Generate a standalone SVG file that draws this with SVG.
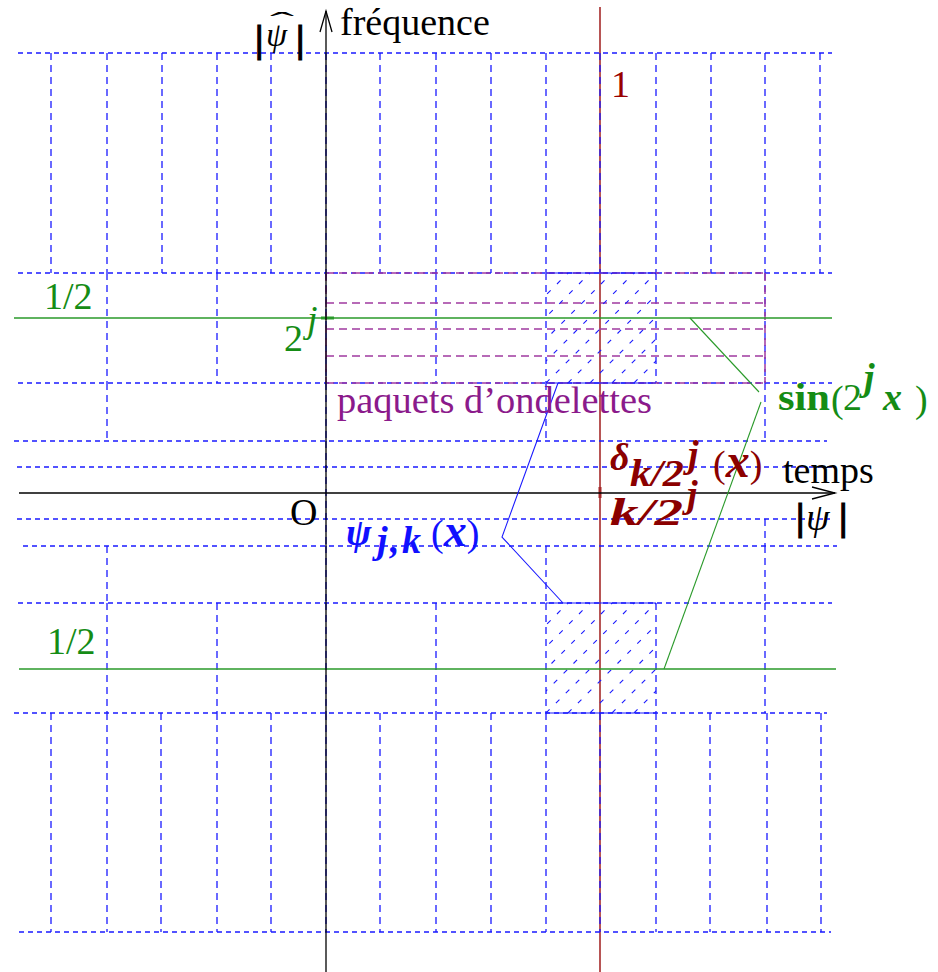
<svg xmlns="http://www.w3.org/2000/svg" width="938" height="972" viewBox="0 0 938 972">
<style>
.h{stroke:#1a1aff;stroke-width:1.3;stroke-dasharray:5 4;fill:none}
.v{stroke:#1a1aff;stroke-width:1.3;stroke-dasharray:7 5;fill:none}
.p{stroke:#a03aa0;stroke-width:1.5;stroke-dasharray:8 5;fill:none}
.g{stroke:#2a9a2a;stroke-width:1.5;fill:none}
.gt{stroke:#2a9a2a;stroke-width:1.1;fill:none}
.b{stroke:#1a1aff;stroke-width:1.1;fill:none}
.k{stroke:#000;stroke-width:1.3;fill:none}
.r{stroke:#a52a2a;stroke-width:1.6;fill:none}
.hatch{stroke:#1a1aff;stroke-width:1.1;stroke-dasharray:5 9;fill:none}
text{font-family:"Liberation Serif","Times New Roman",serif;font-size:38px}
.m{font-style:italic;font-weight:bold}
.i{font-style:italic}
.bar{font-weight:bold;stroke:#000;stroke-width:1.2}
</style>
<defs>
<clipPath id="hc"><rect x="0" y="0" width="110" height="110"/></clipPath>
<g id="hatchbox">
<g clip-path="url(#hc)" class="hatch">
<line x1="-88" y1="110" x2="22" y2="0"/>
<line x1="-66" y1="110" x2="44" y2="0"/>
<line x1="-44" y1="110" x2="66" y2="0"/>
<line x1="-22" y1="110" x2="88" y2="0"/>
<line x1="0" y1="110" x2="110" y2="0"/>
<line x1="22" y1="110" x2="132" y2="0"/>
<line x1="44" y1="110" x2="154" y2="0"/>
<line x1="66" y1="110" x2="176" y2="0"/>
<line x1="88" y1="110" x2="198" y2="0"/>
</g>
<line x1="0" y1="0" x2="110" y2="0" class="b" stroke-width="1.5"/>
<line x1="0" y1="110" x2="110" y2="110" class="b" stroke-width="1.5"/>
</g>
</defs>
<rect width="938" height="972" fill="#fff"/>

<g id="red-line">
<line x1="600" y1="7" x2="600" y2="972" class="r"/>
<line x1="600" y1="487" x2="600" y2="498" stroke="#a52a2a" stroke-width="3"/>
</g>

<g id="grid">
<line class="h" x1="18" y1="53" x2="832" y2="53"/>
<line class="h" x1="18" y1="273" x2="832" y2="273"/>
<line class="h" x1="18" y1="383" x2="832" y2="383"/>
<line class="h" x1="14" y1="441" x2="827" y2="441"/>
<line class="h" x1="17" y1="467" x2="835" y2="467"/>
<line class="h" x1="17" y1="519" x2="830" y2="519"/>
<line class="h" x1="23" y1="546" x2="837" y2="546"/>
<line class="h" x1="18" y1="603" x2="832" y2="603"/>
<line class="h" x1="14" y1="713" x2="827" y2="713"/>
<line class="h" x1="19" y1="932" x2="831" y2="932"/>
<path class="v" d="M51 53V273M107 53V273M162 53V273M217 53V273M271 53V273M326 53V273M380 53V273M436 53V273M491 53V273M546 53V273M600 53V273M656 53V273M711 53V273M765 53V273M820 53V273"/>
<path class="v" d="M107 273V383M217 273V383M326 273V383M436 273V383M546 273V383M656 273V383M765 273V383"/>
<path class="v" d="M107 383V441M326 383V441M546 383V441M765 383V441"/>
<path class="v" d="M326 441V546M765 519V546"/>
<path class="v" d="M107 546V603M326 546V603M546 546V603M765 546V603"/>
<path class="v" d="M107 603V713M217 603V713M326 603V713M436 603V713M546 603V713M656 603V713M765 603V713"/>
<path class="v" d="M51 713V932M107 713V932M161 713V932M217 713V932M271 713V932M326 713V932M380 713V932M436 713V932M491 713V932M546 713V932M600 713V932M656 713V932M710 713V932M767 713V932M821 713V932"/>
</g>

<g id="wavelet-packets">
<path class="p" d="M326 273H765M326 303H765M326 329H765M326 356H765M326 383H765M326 273V383M765 273V383"/>
</g>

<g id="hatch-top"><use href="#hatchbox" transform="translate(546,273)"/></g>
<g id="hatch-bottom"><use href="#hatchbox" transform="translate(546,603)"/></g>

<g id="green-levels">
<line class="g" x1="14" y1="318" x2="832" y2="318"/>
<line class="g" x1="19" y1="669" x2="836" y2="669"/>
<line x1="321" y1="318" x2="334" y2="318" stroke="#2a9a2a" stroke-width="3"/>
</g>

<g id="axes">
<line class="k" x1="19" y1="493" x2="835" y2="493"/>
<polyline class="k" points="812,487 835,493 812,499"/>
<line class="k" x1="326" y1="972" x2="326" y2="11"/>
<polyline class="k" points="320,32 326,11 332,32"/>
</g>

<g id="connectors">
<polyline class="gt" points="690,318 759,392"/>
<polyline class="gt" points="761,402 664,669"/>
<polyline class="b" points="558,383 502,537 563,603"/>
</g>

<g id="labels">
<text id="label-psihat" y="52" font-size="31"><tspan x="255" class="bar">|</tspan><tspan x="266" y="46" class="i" font-size="34">ψ</tspan><tspan x="296" y="52" class="bar">|</tspan><tspan x="270" y="30" font-size="26" textLength="24" lengthAdjust="spacingAndGlyphs">ˆ</tspan></text>
<text id="label-frequence" x="340" y="35">fréquence</text>
<text id="label-temps" x="783" y="483">temps</text>
<g id="label-psi">
<text x="796" y="530" class="bar" font-size="40">|</text>
<text x="806" y="530" class="i" font-size="36">ψ</text>
<text x="839" y="530" class="bar" font-size="40">|</text>
</g>
<text id="label-O" x="290" y="525">O</text>
<text id="label-1" x="611" y="97" fill="#990000">1</text>
<text id="label-half-top" x="44" y="309" fill="#158c15">1/2</text>
<text id="label-half-bottom" x="47" y="654" fill="#158c15">1/2</text>
<g id="label-2j" fill="#158c15">
<text x="284" y="351">2</text>
<text x="307" y="332" class="i" font-size="22">j</text>
</g>
<text id="label-paquets" x="337" y="413" fill="#8b1a8b" textLength="315" lengthAdjust="spacingAndGlyphs">paquets d’ondelettes</text>
<g id="label-sin" fill="#158c15">
<text x="778" y="410" font-weight="bold" font-size="40" textLength="52" lengthAdjust="spacingAndGlyphs">sin</text>
<text x="831" y="412" font-size="44">(</text>
<text x="843" y="410" font-size="40">2</text>
<text x="864" y="390" class="m" font-size="22">j</text>
<text x="883" y="410" class="m" font-size="50">x</text>
<text x="915" y="412" font-size="44">)</text>
</g>
<g id="label-delta" fill="#8b0000">
<text x="610" y="470" class="m">δ</text>
<text x="630" y="486" class="m" font-size="28" textLength="54" lengthAdjust="spacingAndGlyphs">k/2</text>
<text x="688" y="467" class="m" font-size="18">j</text>
<text x="713" y="477" font-size="42">(<tspan class="m" font-size="48">x</tspan>)</text>
</g>
<g id="label-k2j" fill="#8b0000">
<text x="610" y="525" class="m" font-size="42" textLength="73" lengthAdjust="spacingAndGlyphs">k/2</text>
<text x="687" y="507" class="m" font-size="20">j</text>
</g>
<g id="label-psijk" fill="#1010ff">
<text x="346" y="545" class="m">ψ</text>
<text x="377" y="553" class="m" font-size="26" textLength="44" lengthAdjust="spacing">j,k</text>
<text x="431" y="546" font-size="40">(<tspan class="m" font-size="46">x</tspan>)</text>
</g>
</g>
</svg>
